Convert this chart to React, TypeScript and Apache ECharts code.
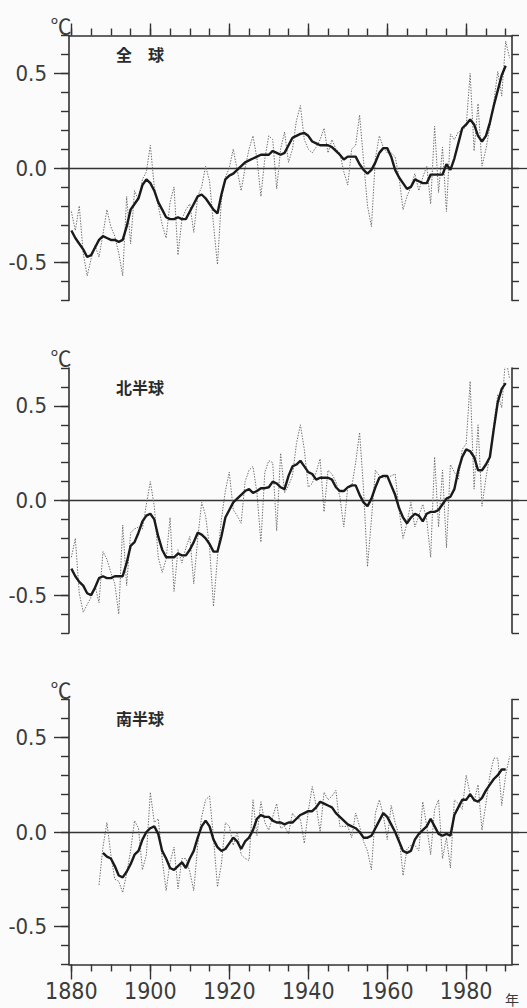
import React, { useEffect, useRef } from 'react';
import * as echarts from 'echarts';

// ---------------- DATA ----------------
// 全球 (global) annual anomalies, 1880–1991
const globalAnnualStart = 1880;
const globalAnnual = [
  -0.23, -0.33, -0.20, -0.45, -0.57, -0.48, -0.41, -0.47, -0.35, -0.22, // 1880s
  -0.31, -0.36, -0.45, -0.57, -0.15, -0.40, -0.12, -0.17, -0.06, -0.02, // 1890s
  0.12, -0.10, -0.20, -0.30, -0.37, -0.18, -0.10, -0.46, -0.27, -0.22, // 1900s
  -0.19, -0.34, -0.15, -0.10, 0.01, -0.07, -0.30, -0.51, -0.17, -0.05, // 1910s
  0.00, 0.10, -0.01, -0.12, 0.00, 0.10, 0.17, 0.05, -0.15, 0.05, // 1920s
  0.17, 0.15, -0.11, 0.10, 0.19, 0.03, 0.10, 0.25, 0.33, 0.15, // 1930s
  0.10, 0.08, 0.11, 0.15, 0.21, 0.08, 0.15, 0.10, 0.08, -0.02, // 1940s
  -0.09, 0.10, 0.12, 0.28, 0.04, -0.20, -0.31, 0.05, 0.17, 0.11, // 1950s
  0.08, 0.08, 0.06, -0.05, -0.22, -0.15, -0.10, -0.03, -0.12, -0.05, // 1960s
  0.01, -0.19, 0.22, -0.13, 0.11, -0.23, 0.18, 0.15, 0.19, 0.20, // 1970s
  0.22, 0.50, 0.09, 0.34, 0.01, 0.10, 0.22, 0.35, 0.51, 0.38, // 1980s
  0.67, 0.58, // 1990–1991
];
// 全球 5-year running mean, 1880–1990
const globalMeanStart = 1880;
const globalMean = [
  -0.33, -0.37, -0.40, -0.43, -0.47, -0.46, -0.42, -0.38, -0.36, -0.37,
  -0.38, -0.38, -0.39, -0.38, -0.31, -0.22, -0.19, -0.16, -0.09, -0.06,
  -0.08, -0.12, -0.18, -0.22, -0.26, -0.27, -0.27, -0.26, -0.27, -0.27,
  -0.23, -0.19, -0.15, -0.14, -0.16, -0.19, -0.22, -0.24, -0.14, -0.06,
  -0.04, -0.03, -0.01, 0.01, 0.03, 0.04, 0.05, 0.06, 0.07, 0.07,
  0.07, 0.09, 0.08, 0.07, 0.08, 0.12, 0.16, 0.17, 0.18, 0.185,
  0.17, 0.14, 0.13, 0.12, 0.12, 0.12, 0.11, 0.09, 0.07, 0.045,
  0.06, 0.06, 0.06, 0.02, -0.01, -0.03, -0.01, 0.03, 0.08, 0.105,
  0.105, 0.06, -0.01, -0.05, -0.08, -0.11, -0.10, -0.06, -0.07, -0.08,
  -0.08, -0.035, -0.035, -0.035, -0.035, 0.02, -0.01, 0.05, 0.13, 0.21,
  0.23, 0.256, 0.23, 0.17, 0.14, 0.17, 0.24, 0.33, 0.41, 0.49,
  0.54,
];

// 北半球 (northern hemisphere) annual anomalies, 1880–1991
const northAnnualStart = 1880;
const northAnnual = [
  -0.30, -0.20, -0.49, -0.59, -0.55, -0.51, -0.45, -0.54, -0.27, -0.31,
  -0.38, -0.44, -0.60, -0.13, -0.45, -0.17, -0.15, -0.14, -0.15, -0.02,
  0.10, -0.03, -0.30, -0.38, -0.31, -0.09, -0.48, -0.26, -0.33, -0.25,
  -0.19, -0.44, -0.20, -0.01, -0.08, -0.25, -0.56, -0.30, -0.10, 0.05,
  0.15, -0.05, -0.08, -0.12, 0.10, 0.16, 0.18, 0.04, -0.22, 0.15,
  0.21, 0.20, -0.16, 0.25, 0.04, 0.08, 0.13, 0.30, 0.40, 0.27,
  0.07, 0.09, 0.15, 0.22, -0.06, 0.16, 0.14, 0.10, 0.02, -0.14,
  0.07, 0.07, 0.20, 0.36, 0.06, -0.35, -0.10, 0.16, 0.13, 0.12,
  0.12, 0.13, 0.14, -0.05, -0.20, -0.12, -0.01, -0.14, -0.08, -0.02,
  -0.10, -0.30, 0.23, -0.14, 0.16, -0.25, 0.19, 0.15, 0.11, 0.27,
  0.30, 0.63, 0.06, 0.40, -0.03, 0.12, 0.24, 0.40, 0.56, 0.49,
  0.76, 0.64,
];
// 北半球 5-year running mean, 1880–1990
const northMeanStart = 1880;
const northMean = [
  -0.36, -0.40, -0.43, -0.45, -0.49, -0.50, -0.46, -0.41, -0.40, -0.41,
  -0.41, -0.40, -0.40, -0.40, -0.33, -0.24, -0.22, -0.17, -0.11, -0.08,
  -0.07, -0.10, -0.19, -0.26, -0.30, -0.30, -0.30, -0.28, -0.29, -0.29,
  -0.26, -0.22, -0.17, -0.18, -0.20, -0.23, -0.27, -0.27, -0.19, -0.09,
  -0.05, -0.01, 0.01, 0.03, 0.05, 0.06, 0.04, 0.05, 0.065, 0.065,
  0.07, 0.10, 0.09, 0.07, 0.06, 0.13, 0.18, 0.19, 0.21, 0.18,
  0.15, 0.14, 0.11, 0.12, 0.12, 0.12, 0.11, 0.07, 0.05, 0.05,
  0.07, 0.08, 0.08, 0.03, -0.01, -0.03, 0.01, 0.07, 0.12, 0.13,
  0.13, 0.08, 0.03, -0.04, -0.09, -0.12, -0.09, -0.07, -0.08, -0.11,
  -0.07, -0.06, -0.06, -0.05, -0.02, 0.01, 0.02, 0.06, 0.16, 0.23,
  0.27, 0.26, 0.23, 0.16, 0.16, 0.19, 0.23, 0.38, 0.52, 0.59,
  0.62,
];

// 南半球 (southern hemisphere) annual anomalies, 1887–1991
const southAnnualStart = 1887;
const southAnnual = [
  -0.28, -0.08, 0.05, // 1887–1889
  -0.12, -0.25, -0.26, -0.32, -0.22, -0.10, 0.06, 0.02, -0.20, -0.12,
  0.21, 0.05, 0.07, -0.14, -0.31, -0.16, -0.08, -0.30, -0.14, -0.14,
  -0.21, -0.31, -0.07, 0.08, 0.17, 0.19, -0.03, -0.29, -0.17, 0.05,
  0.03, -0.07, 0.00, -0.12, -0.14, -0.15, 0.17, -0.02, 0.16, 0.05,
  0.01, 0.08, 0.15, 0.02, 0.03, -0.01, 0.10, 0.07, 0.07, -0.06,
  0.11, 0.24, 0.14, 0.00, 0.21, 0.17, 0.19, 0.22, 0.03, 0.03,
  0.03, -0.03, 0.10, 0.03, -0.05, -0.10, -0.20, 0.10, 0.17, 0.09,
  -0.04, 0.14, 0.05, -0.02, -0.23, -0.09, -0.07, -0.07, -0.10, 0.16,
  0.03, -0.12, 0.12, 0.17, -0.14, -0.03, -0.19, 0.17, 0.15, 0.12,
  0.30, 0.20, 0.16, 0.25, 0.01, 0.15, 0.30, 0.39, 0.39, 0.14,
  0.30, 0.40,
];
// 南半球 5-year running mean, 1888–1990
const southMeanStart = 1888;
const southMean = [
  -0.11, -0.13, // 1888–1889
  -0.14, -0.18, -0.23, -0.24, -0.21, -0.17, -0.12, -0.10, -0.04, 0.00,
  0.02, 0.03, -0.01, -0.10, -0.14, -0.19, -0.20, -0.18, -0.16, -0.19,
  -0.14, -0.10, -0.03, 0.03, 0.06, 0.03, -0.04, -0.08, -0.10, -0.09,
  -0.06, -0.03, -0.05, -0.09, -0.05, -0.03, 0.01, 0.07, 0.09, 0.08,
  0.08, 0.06, 0.05, 0.05, 0.04, 0.05, 0.05, 0.07, 0.09, 0.10,
  0.11, 0.11, 0.13, 0.16, 0.15, 0.14, 0.13, 0.10, 0.08, 0.06,
  0.04, 0.03, 0.02, 0.00, -0.03, -0.03, -0.02, 0.02, 0.06, 0.10,
  0.08, 0.04, 0.00, -0.05, -0.10, -0.11, -0.10, -0.04, -0.01, 0.01,
  0.03, 0.07, 0.03, -0.01, -0.02, -0.01, -0.02, 0.09, 0.13, 0.17,
  0.17, 0.20, 0.17, 0.16, 0.18, 0.22, 0.25, 0.28, 0.30, 0.33,
  0.33,
];

// Axis ticks and labels
const xMinorTicks = [
  1880, 1885, 1890, 1895, 1900, 1905, 1910, 1915, 1920, 1925, 1930, 1935,
  1940, 1945, 1950, 1955, 1960, 1965, 1970, 1975, 1980, 1985, 1990,
];
const xMajorTicks = [1880, 1900, 1920, 1940, 1960, 1980];
const yMinorTicks = [-0.7, -0.6, -0.5, -0.4, -0.3, -0.2, -0.1, 0, 0.1, 0.2, 0.3, 0.4, 0.5, 0.6, 0.7];
const yMajorTicks = [-0.5, 0, 0.5];
const yZeroTick = [0];
const panelTitles = ['全　球', '北半球', '南半球'];
const unitLabel = '℃';
const yearLabel = '年';

// ---------------- LAYOUT / STYLE ----------------
const X_MIN = 1879.4;
const X_MAX = 1991.6;
const Y_MIN = -0.7;
const Y_MAX = 0.7;
const GRID_LEFT = 69;
const GRID_WIDTH = 443;
const GRID_HEIGHT = 265;
const GRID_TOPS = [35.5, 368, 699.5];
const INK = '#333333';
const NUM_FONT = "'Liberation Sans Narrow', 'Arial Narrow', 'DejaVu Sans Condensed', sans-serif";
const CJK_FONT = "'Noto Sans CJK JP', 'Noto Sans CJK SC', sans-serif";

const toPairs = (start: number, values: number[]) => values.map((v, i) => [start + i, v]);

const panels = [
  { annual: toPairs(globalAnnualStart, globalAnnual), mean: toPairs(globalMeanStart, globalMean) },
  { annual: toPairs(northAnnualStart, northAnnual), mean: toPairs(northMeanStart, northMean) },
  { annual: toPairs(southAnnualStart, southAnnual), mean: toPairs(southMeanStart, southMean) },
];

function buildOption() {
  const grid: any[] = [];
  const xAxis: any[] = [];
  const yAxis: any[] = [];
  const series: any[] = [];
  const graphic: any[] = [];

  panels.forEach((panel, p) => {
    const top = GRID_TOPS[p];
    grid.push({
      left: GRID_LEFT,
      top,
      width: GRID_WIDTH,
      height: GRID_HEIGHT,
      containLabel: false,
      outerBoundsMode: 'none',
    });

    const xShow = p !== 1;
    const xPos = p === 0 ? 'top' : 'bottom';
    const xBase = {
      type: 'value',
      gridIndex: p,
      min: X_MIN,
      max: X_MAX,
      position: xPos,
      splitLine: { show: false },
      axisPointer: { show: false },
    };
    // minor ticks + axis line
    xAxis.push({
      ...xBase,
      show: xShow,
      axisLine: { show: true, onZero: false, lineStyle: { color: INK, width: 1.6 } },
      axisTick: {
        show: true,
        inside: false,
        length: 7,
        customValues: xMinorTicks,
        lineStyle: { color: INK, width: 1.4 },
      },
      axisLabel: { show: false },
    });
    // major ticks (+ year labels on the bottom panel)
    xAxis.push({
      ...xBase,
      show: xShow,
      axisLine: { show: false, onZero: false },
      axisTick: {
        show: true,
        inside: false,
        length: p === 0 ? 12 : 15,
        customValues: xMajorTicks,
        lineStyle: { color: INK, width: 1.4 },
      },
      axisLabel: {
        show: p === 2,
        customValues: xMajorTicks,
        margin: 15,
        color: '#3c3c3c',
        fontSize: 23,
        fontFamily: NUM_FONT,
        formatter: (v: number) => String(Math.round(v)),
      },
    });

    const yBase = {
      type: 'value',
      gridIndex: p,
      min: Y_MIN,
      max: Y_MAX,
      splitLine: { show: false },
      axisPointer: { show: false },
    };
    // left: line + minor ticks
    yAxis.push({
      ...yBase,
      position: 'left',
      axisLine: { show: true, onZero: false, lineStyle: { color: INK, width: 1.6 } },
      axisTick: { show: true, inside: false, length: 8, customValues: yMinorTicks, lineStyle: { color: INK, width: 1.4 } },
      axisLabel: { show: false },
    });
    // left: major ticks + labels
    yAxis.push({
      ...yBase,
      position: 'left',
      axisLine: { show: false, onZero: false },
      axisTick: { show: true, inside: false, length: 15, customValues: yMajorTicks, lineStyle: { color: INK, width: 1.4 } },
      axisLabel: {
        show: true,
        customValues: yMajorTicks,
        margin: 22,
        color: '#3c3c3c',
        fontSize: 22,
        fontFamily: NUM_FONT,
        formatter: (v: number) => (Math.abs(v) < 1e-9 ? '0.0' : v.toFixed(1)),
      },
    });
    // right: line + minor ticks
    yAxis.push({
      ...yBase,
      position: 'right',
      axisLine: { show: true, onZero: false, lineStyle: { color: INK, width: 1.6 } },
      axisTick: { show: true, inside: false, length: 7, customValues: yMinorTicks, lineStyle: { color: INK, width: 1.4 } },
      axisLabel: { show: false },
    });
    // right: zero line extension
    yAxis.push({
      ...yBase,
      position: 'right',
      axisLine: { show: false, onZero: false },
      axisTick: { show: true, inside: false, length: 16, customValues: yZeroTick, lineStyle: { color: INK, width: 1.3 } },
      axisLabel: { show: false },
    });

    series.push({
      type: 'line',
      xAxisIndex: p * 2,
      yAxisIndex: p * 4,
      data: panel.annual,
      symbol: 'none',
      showSymbol: false,
      smooth: false,
      lineStyle: { color: '#6e6e6e', width: 1, type: [1.4, 1.4] },
      z: 2,
    });
    series.push({
      type: 'line',
      xAxisIndex: p * 2,
      yAxisIndex: p * 4,
      data: panel.mean,
      symbol: 'none',
      showSymbol: false,
      smooth: false,
      lineStyle: { color: '#1a1a1a', width: 2.4 },
      z: 3,
      markLine: {
        silent: true,
        symbol: ['none', 'none'],
        label: { show: false },
        lineStyle: { color: INK, width: 1.3, type: 'solid' },
        data: [{ yAxis: 0 }],
        z: 1,
      },
    });

    // panel title
    graphic.push({
      type: 'text',
      x: 140,
      y: top + 18.5,
      style: {
        text: panelTitles[p],
        fontSize: 16,
        fontWeight: 'bold',
        fontFamily: CJK_FONT,
        fill: '#2a2a2a',
        align: 'center',
        verticalAlign: 'middle',
        textAlign: 'center',
        textVerticalAlign: 'middle',
      },
    });
    // unit label
    graphic.push({
      type: 'text',
      x: 61,
      y: top - 11,
      style: {
        text: unitLabel,
        fontSize: 21,
        fontFamily: CJK_FONT,
        fill: '#3a3a3a',
        align: 'center',
        verticalAlign: 'middle',
        textAlign: 'center',
        textVerticalAlign: 'middle',
      },
    });
  });

  graphic.push({
    type: 'text',
    x: 512,
    y: 999,
    style: {
      text: yearLabel,
      fontSize: 14,
      fontFamily: CJK_FONT,
      fill: '#3a3a3a',
      align: 'center',
      verticalAlign: 'middle',
      textAlign: 'center',
      textVerticalAlign: 'middle',
    },
  });

  return {
    animation: false,
    backgroundColor: '#fbfbfb',
    grid,
    xAxis,
    yAxis,
    series,
    graphic,
  };
}

export default function App() {
  const ref = useRef<HTMLDivElement>(null);
  useEffect(() => {
    if (!ref.current) return;
    const chart = echarts.init(ref.current, null, { renderer: 'svg' });
    chart.setOption(buildOption() as any);
    return () => {
      chart.dispose();
    };
  }, []);
  return (
    <div
      ref={ref}
      style={{ position: 'absolute', left: 0, top: 0, width: 527, height: 1008, background: '#fbfbfb' }}
    />
  );
}
